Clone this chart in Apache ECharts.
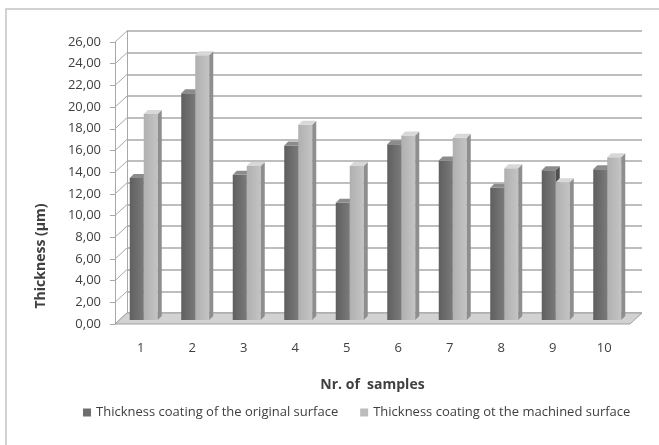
<!DOCTYPE html>
<html>

<head>
    <meta charset="utf-8">
    <script type="text/javascript" src="https://cdn.jsdelivr.net/npm/echarts@6/dist/echarts.min.js"></script>
    <title>Thickness</title>
</head>

<body style="margin:0">
    <div id="container" style="width:659px;height:445px;"></div>
    <script type="text/javascript">
    // data
    var categories = ['1', '2', '3', '4', '5', '6', '7', '8', '9', '10'];
    var original = [13.1, 20.9, 13.4, 16.1, 10.8, 16.2, 14.7, 12.2, 13.8, 13.9];
    var machined = [19.0, 24.4, 14.2, 18.0, 14.2, 17.0, 16.8, 14.0, 12.7, 15.0];
    var yTicks = [0, 2, 4, 6, 8, 10, 12, 14, 16, 18, 20, 22, 24, 26];
    var seriesNames = ['Thickness coating of the original surface', 'Thickness coating ot the machined surface'];

    var myChart = echarts.init(document.getElementById('container'));
    var font = '"Open Sans", "Liberation Sans", Arial, sans-serif';
    var textColor = '#404040';
    var gridColor = '#a8a8a8';

    // 3D-ish bar: front face, side face, top face
    function barRenderer(offset, front, side, top) {
        return function (params, api) {
            var idx = api.value(0);
            var p = api.coord([idx, api.value(1)]);
            var b = api.coord([idx, 0]);
            var w = 14, d = 4;
            var x0 = p[0] + offset;
            return {
                type: 'group',
                children: [{
                    type: 'rect',
                    shape: { x: x0, y: p[1], width: w, height: b[1] - p[1] },
                    style: {
                        fill: new echarts.graphic.LinearGradient(0, 0, 1, 0, [
                            { offset: 0, color: front[0] },
                            { offset: 1, color: front[1] }
                        ])
                    }
                }, {
                    type: 'polygon',
                    shape: { points: [[x0 + w, p[1]], [x0 + w + d, p[1] - d], [x0 + w + d, b[1] - d], [x0 + w, b[1]]] },
                    style: { fill: side }
                }, {
                    type: 'polygon',
                    shape: { points: [[x0, p[1]], [x0 + d, p[1] - d], [x0 + w + d, p[1] - d], [x0 + w, p[1]]] },
                    style: { fill: top }
                }]
            };
        };
    }

    var option = {
        backgroundColor: '#ffffff',
        animation: false,
        textStyle: { fontFamily: font },
        legend: {
            bottom: 21,
            left: 78,
            icon: 'rect',
            itemWidth: 8,
            itemHeight: 8,
            itemGap: 22,
            textStyle: { color: textColor, fontSize: 13, fontFamily: font },
            data: seriesNames
        },
        grid: [
            { left: 115, right: 29, top: 42, bottom: 121 }, // front plane (labels)
            { left: 127, right: 17, top: 31, bottom: 132 }, // back wall
            { left: 118, right: 26, top: 38, bottom: 125 }  // bar plane
        ],
        xAxis: [{
            type: 'category', gridIndex: 0, data: categories,
            axisLine: { show: false },
            axisTick: { show: false },
            axisLabel: { color: textColor, fontSize: 13, margin: 18 },
            name: 'Nr. of  samples',
            nameLocation: 'middle',
            nameGap: 54,
            nameTextStyle: { color: textColor, fontSize: 14, fontWeight: 'bold' }
        }, {
            type: 'category', gridIndex: 1, data: categories, show: false
        }, {
            type: 'category', gridIndex: 2, data: categories, show: false
        }],
        yAxis: [{
            type: 'value', gridIndex: 0, min: 0, max: 26, interval: 2,
            axisLine: { show: true, lineStyle: { color: gridColor } },
            axisTick: { show: true, length: 5, lineStyle: { color: gridColor } },
            axisLabel: {
                color: textColor, fontSize: 13, margin: 14,
                formatter: function (v) { return v.toFixed(2).replace('.', ','); }
            },
            splitLine: { show: false }
        }, {
            type: 'value', gridIndex: 1, min: 0, max: 26, interval: 2,
            axisLine: { show: true, lineStyle: { color: gridColor } },
            axisTick: { show: false },
            axisLabel: { show: false },
            splitLine: { show: true, lineStyle: { color: gridColor, width: 1.5 } }
        }, {
            type: 'value', gridIndex: 2, min: 0, max: 26, interval: 2, show: false
        }],
        series: [{
            name: seriesNames[0],
            type: 'custom',
            xAxisIndex: 2, yAxisIndex: 2,
            z: 3,
            itemStyle: { color: '#6e6e6e' },
            renderItem: barRenderer(-14, ['#5f5f5f', '#7a7a7a'], '#4f4f4f', '#8c8c8c'),
            data: original.map(function (v, i) { return [i, v]; })
        }, {
            name: seriesNames[1],
            type: 'custom',
            xAxisIndex: 2, yAxisIndex: 2,
            z: 4,
            itemStyle: { color: '#bcbcbc' },
            renderItem: barRenderer(0, ['#b0b0b0', '#c4c4c4'], '#8e8e8e', '#d8d8d8'),
            data: machined.map(function (v, i) { return [i, v]; })
        }]
    };

    myChart.setOption(option);

    // side wall ticks, floor, y-axis name and outer border
    var extra = [];
    var dx = 12, dy = -11;
    yTicks.forEach(function (t) {
        var y = myChart.convertToPixel({ yAxisIndex: 0 }, t);
        extra.push({
            type: 'line', z: 1,
            shape: { x1: 115, y1: y, x2: 115 + dx, y2: y + dy },
            style: { stroke: gridColor, lineWidth: 1 }
        });
    });
    var y0 = myChart.convertToPixel({ yAxisIndex: 0 }, 0);
    extra.push({
        type: 'polygon', z: 2,
        shape: { points: [[115, y0], [630, y0], [630 + dx, y0 + dy], [115 + dx, y0 + dy]] },
        style: { fill: '#d2d2d2', stroke: '#a0a0a0', lineWidth: 1 }
    });
    extra.push({
        type: 'text', z: 5,
        x: 41, y: 256, rotation: Math.PI / 2,
        style: {
            text: 'Thickness (µm)', fill: textColor, font: 'bold 14px ' + font,
            align: 'center', verticalAlign: 'middle'
        }
    });
    extra.push({
        type: 'rect', z: 0,
        shape: { x: 6, y: 9, width: 700, height: 500 },
        style: { fill: 'none', stroke: '#c4c4c4', lineWidth: 1.5 }
    });
    myChart.setOption({ graphic: extra });
    </script>
</body>

</html>
